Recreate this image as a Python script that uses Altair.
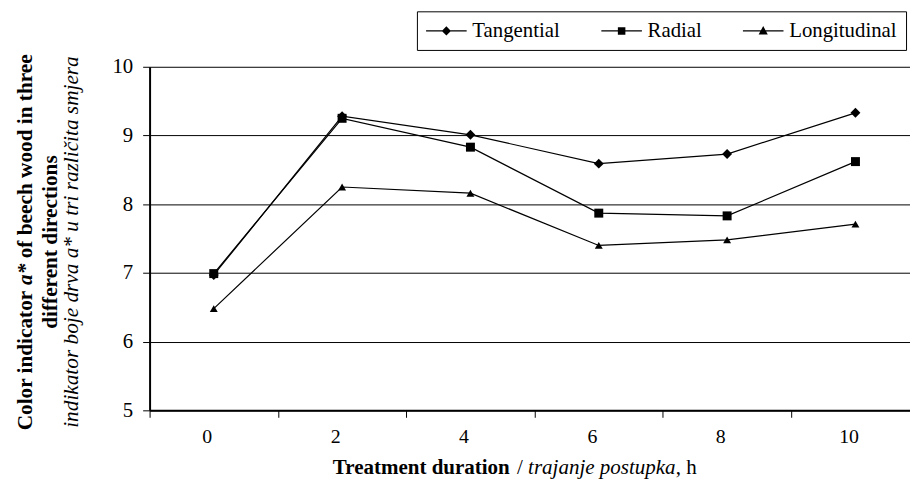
import altair as alt
import pandas as pd

# ---- data ----
hours = [0, 2, 4, 6, 8, 10]
series_names = ["Tangential", "Radial", "Longitudinal"]
tangential = [6.97, 9.28, 9.01, 8.59, 8.73, 9.33]
radial = [6.99, 9.25, 8.83, 7.87, 7.83, 8.62]
longitudinal = [6.48, 8.25, 8.16, 7.40, 7.48, 7.71]
y_ticks = [5, 6, 7, 8, 9, 10]

values = {"Tangential": tangential, "Radial": radial, "Longitudinal": longitudinal}
rows = []
for s in series_names:
    for h, v in zip(hours, values[s]):
        rows.append({"hours": h, "series": s, "value": v})
df = pd.DataFrame(rows)

FONT = "Liberation Serif"
W, H = 768, 347
X_MAX = 10.85
UNIT = W / (X_MAX + 1)  # pixels per hour

x_enc = alt.X(
    "hours:Q",
    scale=alt.Scale(domain=[-1, X_MAX], nice=False, zero=False),
    axis=alt.Axis(
        values=hours, grid=False, title=None,
        tickOffset=-UNIT, labelOffset=UNIT - 7,
        tickSize=7, tickColor="black", tickWidth=1,
        domainColor="black", domainWidth=2,
        labelFont=FONT, labelFontSize=20, labelColor="black", labelPadding=9,
    ),
)
y_enc = alt.Y(
    "value:Q",
    scale=alt.Scale(domain=[5, 10], nice=False, zero=False),
    axis=alt.Axis(
        values=y_ticks, grid=True, gridColor="black", gridWidth=1, title=None,
        tickSize=7, tickColor="black", tickWidth=1,
        domainColor="black", domainWidth=2,
        labelFont=FONT, labelFontSize=21, labelColor="black", labelPadding=10,
    ),
)

base = alt.Chart(df).encode(x=x_enc, y=y_enc)

lines = base.mark_line(color="black", strokeWidth=1.2).encode(detail="series:N")

points = base.mark_point(filled=True, color="black", opacity=1).encode(
    shape=alt.Shape(
        "series:N",
        scale=alt.Scale(domain=series_names, range=["diamond", "square", "triangle-up"]),
        legend=None,
    ),
    size=alt.Size(
        "series:N",
        scale=alt.Scale(domain=series_names, range=[100, 64, 85]),
        legend=None,
    ),
)

# legend-only layer: symbols are a (filled, 1px) line with the marker on it
BAR = "M-1,-0.05H3V0.05H-1Z"
legend_paths = [
    BAR + "M1,-0.45L1.45,0L1,0.45L0.55,0Z",
    BAR + "M0.63,-0.37H1.37V0.37H0.63Z",
    BAR + "M1,-0.48L1.45,0.36H0.55Z",
]
legend_layer = base.mark_point(
    filled=True, color="black", opacity=1, stroke="black", strokeWidth=0.5
).encode(
    shape=alt.Shape(
        "series:N",
        scale=alt.Scale(domain=series_names, range=legend_paths),
        legend=alt.Legend(
            orient="none", legendX=270, legendY=-56, direction="horizontal",
            title=None, strokeColor="black", padding=9,
            labelFont=FONT, labelFontSize=21, labelColor="black",
            symbolSize=420, labelOffset=26, columnPadding=40,
            symbolFillColor="black", symbolStrokeColor="black",
            symbolStrokeWidth=0.5, symbolOpacity=1,
        ),
    ),
).transform_filter("false")


def label(txt, x, y, weight="normal", style="normal", angle=0, align="left", size=21.5):
    kw = dict(font=FONT, fontSize=size, fontWeight=weight, fontStyle=style,
              align=align, baseline="alphabetic", color="black")
    if angle:
        kw["angle"] = angle
    return alt.Chart(pd.DataFrame({"t": [txt]})).mark_text(**kw).encode(
        text="t:N", x=alt.value(x), y=alt.value(y)
    )


XT = 21.2  # x-title font size
titles = [
    label("Color indicator", -119, 367.2, weight="bold", angle=270),
    label("a*", -119, 220.3, weight="bold", style="italic", angle=270),
    label("of beech wood in three", -119, 193.4, weight="bold", angle=270),
    label("different directions", -94, 177, weight="bold", angle=270, align="center"),
    label("indikator boje drva a* u tri različita smjera", -72, 177,
          style="italic", angle=270, align="center"),
    label("Treatment duration", 185, 411, weight="bold", size=XT),
    label("/", 371.1, 411, size=XT),
    label("trajanje postupka", 382.3, 411, style="italic", size=XT),
    label(", h", 531.3, 411, size=XT),
]

chart = alt.layer(lines, points, legend_layer, *titles).resolve_scale(
    shape="independent"
).properties(
    width=W, height=H,
    padding={"left": 6, "top": 0, "right": 0, "bottom": 0},
    background="white",
).configure_view(strokeOpacity=0)

chart.save("out.html", embed_options={"renderer": "svg", "actions": False})
